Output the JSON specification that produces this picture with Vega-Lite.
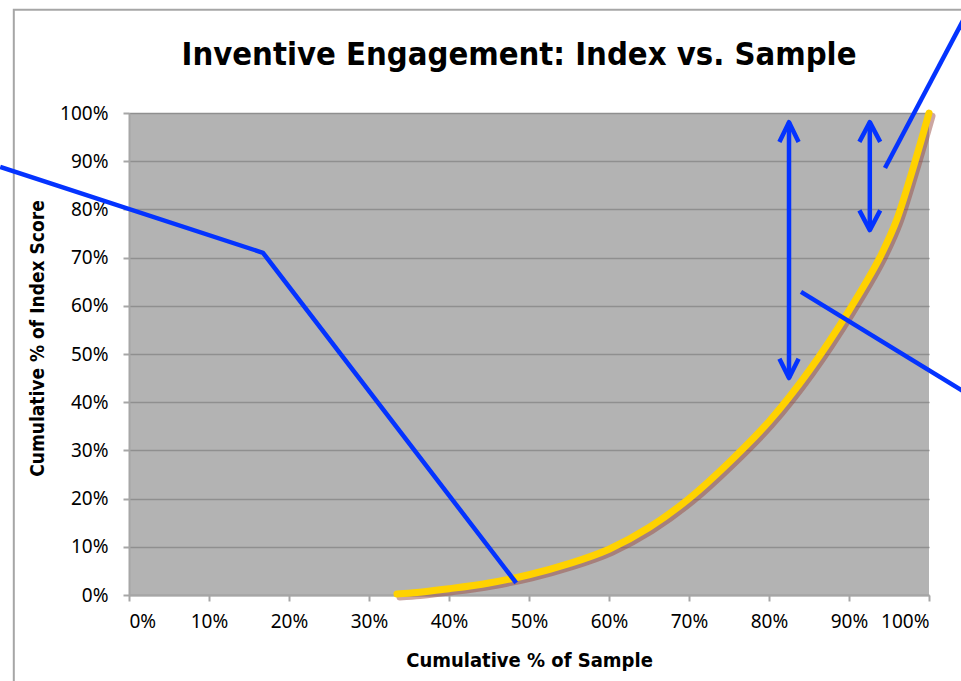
{
  "$schema": "https://vega.github.io/schema/vega-lite/v6.json",
  "width": 800,
  "height": 482,
  "autosize": "none",
  "padding": {"left": 129, "top": 113, "right": 32, "bottom": 86},
  "background": "white",
  "title": {
    "text": "Inventive Engagement: Index vs. Sample",
    "font": "DejaVu Sans Condensed",
    "fontSize": 32.5,
    "fontWeight": "bold",
    "color": "black",
    "anchor": "middle",
    "baseline": "alphabetic",
    "dx": -10,
    "offset": -100
  },
  "config": {
    "view": {"fill": "#b3b3b3", "stroke": null},
    "axis": {
      "domainColor": "#a6a6a6",
      "domainWidth": 2,
      "tickColor": "#a6a6a6",
      "tickWidth": 2,
      "tickSize": 6,
      "gridColor": "#8f8f8f",
      "gridWidth": 1.5,
      "labelColor": "black",
      "labelFont": "Noto Sans",
      "labelFontSize": 19,
      "titleFont": "DejaVu Sans Condensed",
      "titleFontWeight": "bold",
      "titleColor": "black"
    }
  },
  "datasets": {
    "frame": [{"x": -14.4, "x2": 140, "y": 121.4, "y2": -40}],
    "curve": [
      {"x": 33.5, "y": 0.2},
      {"x": 36, "y": 0.5},
      {"x": 40, "y": 1.3},
      {"x": 45, "y": 2.5},
      {"x": 50, "y": 4.2},
      {"x": 55, "y": 6.5},
      {"x": 60, "y": 9.5},
      {"x": 65, "y": 14},
      {"x": 70, "y": 20},
      {"x": 75, "y": 27.5},
      {"x": 80, "y": 36},
      {"x": 85, "y": 46.5},
      {"x": 90, "y": 59},
      {"x": 92, "y": 64.5},
      {"x": 94, "y": 70.5},
      {"x": 96, "y": 78},
      {"x": 98, "y": 88.5},
      {"x": 100, "y": 100}
    ],
    "marks": [{"x": 50}, {"x": 80}, {"x": 90}],
    "callouts": [
      {"id": "L1", "o": 1, "x": -16.1, "y": 88.8},
      {"id": "L1", "o": 2, "x": 16.75, "y": 71},
      {"id": "L1", "o": 3, "x": 48.4, "y": 2.5},
      {"id": "L2", "o": 1, "x": 94.5, "y": 88.6},
      {"id": "L2", "o": 2, "x": 105.6, "y": 123.4},
      {"id": "L3", "o": 1, "x": 84, "y": 62.9},
      {"id": "L3", "o": 2, "x": 108.9, "y": 37.6},
      {"id": "A1", "o": 1, "x": 82.5, "y": 98.1},
      {"id": "A1", "o": 2, "x": 82.5, "y": 45},
      {"id": "A1t", "o": 1, "x": 81.3, "y": 94},
      {"id": "A1t", "o": 2, "x": 82.5, "y": 98.1},
      {"id": "A1t", "o": 3, "x": 83.7, "y": 94},
      {"id": "A1b", "o": 1, "x": 81.3, "y": 49},
      {"id": "A1b", "o": 2, "x": 82.5, "y": 45},
      {"id": "A1b", "o": 3, "x": 83.7, "y": 49},
      {"id": "A2", "o": 1, "x": 92.6, "y": 98.1},
      {"id": "A2", "o": 2, "x": 92.6, "y": 75.7},
      {"id": "A2t", "o": 1, "x": 91.3, "y": 94},
      {"id": "A2t", "o": 2, "x": 92.6, "y": 98.1},
      {"id": "A2t", "o": 3, "x": 93.9, "y": 94},
      {"id": "A2b", "o": 1, "x": 91.3, "y": 79.8},
      {"id": "A2b", "o": 2, "x": 92.6, "y": 75.7},
      {"id": "A2b", "o": 3, "x": 93.9, "y": 79.8}
    ]
  },
  "encoding": {
    "x": {
      "field": "x",
      "type": "quantitative",
      "scale": {"domain": [0, 100], "nice": false, "zero": false},
      "axis": {
        "title": "Cumulative % of Sample",
        "titleFontSize": 20,
        "values": [0, 10, 20, 30, 40, 50, 60, 70, 80, 90, 100],
        "labelExpr": "datum.value + '%'",
        "grid": false,
        "labelPadding": 11,
        "titlePadding": 19
      }
    },
    "y": {
      "field": "y",
      "type": "quantitative",
      "scale": {"domain": [0, 100], "nice": false, "zero": false},
      "axis": {
        "title": "Cumulative % of Index Score",
        "titleFontSize": 19,
        "values": [0, 10, 20, 30, 40, 50, 60, 70, 80, 90, 100],
        "labelExpr": "datum.value + '%'",
        "grid": true,
        "labelPadding": 15,
        "titlePadding": 12,
        "titleY": 225
      }
    }
  },
  "layer": [
    {
      "data": {"name": "frame"},
      "mark": {"type": "rect", "filled": false, "stroke": "#a6a6a6", "strokeWidth": 2, "clip": false},
      "encoding": {
        "x2": {"field": "x2"},
        "y2": {"field": "y2"}
      }
    },
    {
      "data": {"name": "curve"},
      "mark": {"type": "line", "color": "#9a4d45", "opacity": 0.5, "strokeWidth": 7, "xOffset": 3, "yOffset": 3, "strokeCap": "round", "interpolate": "monotone"},
      "encoding": {}
    },
    {
      "data": {"name": "curve"},
      "mark": {"type": "line", "color": "#ffd200", "strokeWidth": 7, "strokeCap": "round", "interpolate": "monotone"},
      "encoding": {}
    },
    {
      "data": {"name": "marks"},
      "mark": {"type": "rule", "color": "black", "strokeWidth": 4.5},
      "encoding": {
        "y": {"datum": 0},
        "y2": {"datum": 100}
      }
    },
    {
      "data": {"name": "callouts"},
      "mark": {"type": "line", "color": "#0433ff", "strokeWidth": 4.5, "strokeJoin": "round", "clip": false},
      "encoding": {
        "detail": {"field": "id"},
        "order": {"field": "o"}
      }
    }
  ]
}
